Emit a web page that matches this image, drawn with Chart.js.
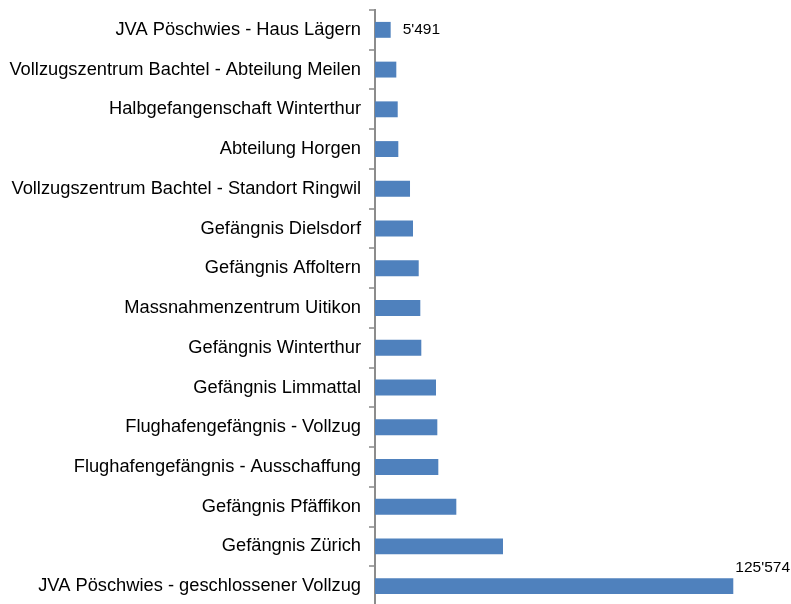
<!DOCTYPE html>
<html>
<head>
<meta charset="utf-8">
<script src="https://cdn.jsdelivr.net/npm/chart.js@4/dist/chart.umd.min.js"></script>
<style>
  html, body { margin: 0; padding: 0; background: #fff; overflow: hidden; }
  #wrap { width: 791px; height: 634px; margin-top: -9px; }
</style>
</head>
<body>
<div id="wrap"><canvas id="chart" width="791" height="634"></canvas></div>
<script>
// Kategorien (von oben nach unten)
const categories = [
  'JVA Pöschwies - Haus Lägern',
  'Vollzugszentrum Bachtel - Abteilung Meilen',
  'Halbgefangenschaft Winterthur',
  'Abteilung Horgen',
  'Vollzugszentrum Bachtel - Standort Ringwil',
  'Gefängnis Dielsdorf',
  'Gefängnis Affoltern',
  'Massnahmenzentrum Uitikon',
  'Gefängnis Winterthur',
  'Gefängnis Limmattal',
  'Flughafengefängnis - Vollzug',
  'Flughafengefängnis - Ausschaffung',
  'Gefängnis Pfäffikon',
  'Gefängnis Zürich',
  'JVA Pöschwies - geschlossener Vollzug'
];

const values = [5491, 7470, 7960, 8170, 12270, 13320, 15320, 15880, 16230, 21380, 21840, 22190, 28500, 44860, 125574];

// only these get a value label
const labelledIdx = [0, 14];

const fmt = v => String(v).replace(/\B(?=(\d{3})+(?!\d))/g, "'");

const valueLabels = {
  id: 'valueLabels',
  afterDatasetsDraw(chart) {
    const ctx = chart.ctx;
    const meta = chart.getDatasetMeta(0);
    ctx.save();
    ctx.font = '15.5px "Liberation Sans", Arial, sans-serif';
    ctx.fillStyle = '#000';
    labelledIdx.forEach(i => {
      const bar = meta.data[i];
      const txt = fmt(values[i]);
      if (i === 0) {
        ctx.textAlign = 'left';
        ctx.textBaseline = 'middle';
        ctx.fillText(txt, bar.x + 12, bar.y);
      } else {
        ctx.textAlign = 'right';
        ctx.textBaseline = 'bottom';
        ctx.fillText(txt, chart.width - 1, bar.y - 11);
      }
    });
    ctx.restore();
  }
};

new Chart(document.getElementById('chart'), {
  type: 'bar',
  data: {
    labels: categories,
    datasets: [{
      data: values,
      backgroundColor: '#4f81bd',
      borderWidth: 0,
      barPercentage: 0.8,
      categoryPercentage: 0.5
    }]
  },
  options: {
    indexAxis: 'y',
    responsive: false,
    animation: false,
    layout: { padding: 0 },
    plugins: { legend: { display: false }, tooltip: { enabled: false } },
    scales: {
      x: {
        display: false,
        min: 0,
        max: 145800
      },
      y: {
        afterFit(scale) { scale.width = 375; },
        border: { display: true, color: '#8c8c8c', width: 2 },
        grid: {
          offset: true,
          drawOnChartArea: false,
          drawTicks: true,
          tickLength: 6,
          color: '#a6a6a6',
          lineWidth: 2
        },
        ticks: {
          color: '#000',
          padding: 8,
          font: { family: '"Liberation Sans", Arial, sans-serif', size: 18.3 }
        }
      }
    }
  },
  plugins: [valueLabels]
});
</script>
</body>
</html>
